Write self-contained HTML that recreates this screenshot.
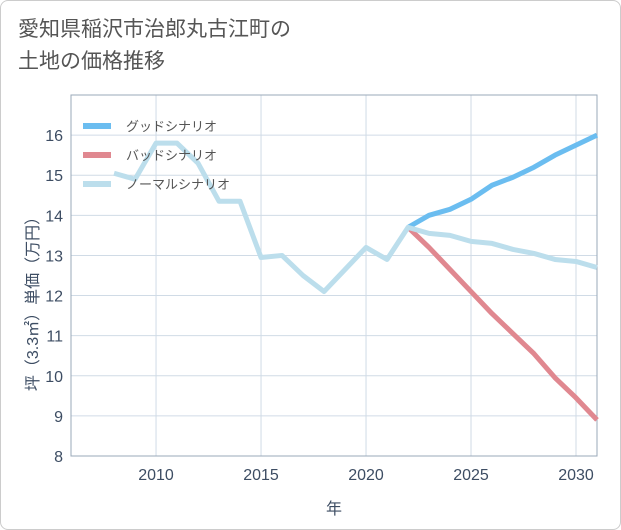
<!DOCTYPE html>
<html><head><meta charset="utf-8"><style>
body{margin:0;background:#fff;font-family:"Liberation Sans","Noto Sans CJK JP",sans-serif;}
.card{position:absolute;left:0;top:0;width:619px;height:528px;border:1px solid #ccc;border-radius:8px;background:#fff;}
.title{position:absolute;left:18px;top:14px;font-size:21px;line-height:32px;color:#555;}
</style></head><body>
<div class="card"></div>
<div class="title">愛知県稲沢市治郎丸古江町の<br>土地の価格推移</div>
<svg id="chart" width="621" height="530" style="position:absolute;left:0;top:0"></svg>
<script>
const years=[2008,2009,2010,2011,2012,2013,2014,2015,2016,2017,2018,2019,2020,2021,2022,2023,2024,2025,2026,2027,2028,2029,2030,2031];
const normal=[15.05,14.9,15.8,15.8,15.3,14.35,14.35,12.95,13.0,12.5,12.1,12.65,13.2,12.9,13.7,13.55,13.5,13.35,13.3,13.15,13.05,12.9,12.85,12.7];
const futureYears=[2022,2023,2024,2025,2026,2027,2028,2029,2030,2031];
const good=[13.7,14.0,14.15,14.4,14.75,14.95,15.2,15.5,15.75,16.0];
const bad=[13.7,13.2,12.65,12.1,11.55,11.05,10.55,9.95,9.45,8.9];
const yTicks=[8,9,10,11,12,13,14,15,16];
const xTicks=[2010,2015,2020,2025,2030];
const L=71,R=597,T=95,B=456,x0=2005.95,x1=2031,y0=8,y1=17;
const X=v=>L+(v-x0)/(x1-x0)*(R-L), Y=v=>B-(v-y0)/(y1-y0)*(B-T);
const svg=document.getElementById('chart');const NS='http://www.w3.org/2000/svg';
function mk(t,a,p){const e=document.createElementNS(NS,t);for(const k in a)e.setAttribute(k,a[k]);(p||svg).appendChild(e);return e;}
yTicks.forEach(v=>{const l=mk('line',{x1:L,x2:R,y1:Y(v),y2:Y(v),stroke:'#d0dbe6','stroke-width':1});


const t=mk('text',{x:L-8,y:Y(v)+6,'text-anchor':'end','font-size':16,fill:'#3d4d63'});t.textContent=v;

});
xTicks.forEach(v=>{const l=mk('line',{x1:X(v),x2:X(v),y1:T,y2:B,stroke:'#d0dbe6','stroke-width':1});


const t=mk('text',{x:X(v),y:B+24,'text-anchor':'middle','font-size':16,fill:'#3d4d63'});t.textContent=v;

});
const fr=mk('rect',{x:L,y:T,width:R-L,height:B-T,fill:'none',stroke:'#9aa8b8','stroke-width':1});


function line(xs,ys,c,n){const p=mk('polyline',{points:xs.map((x,i)=>X(x)+','+Y(ys[i])).join(' '),fill:'none',stroke:c,'stroke-width':5,'stroke-linejoin':'round'});

}
line(futureYears,bad,'#e08890','bad-scenario-line');
line(futureYears,good,'#6bbdf0','good-scenario-line');
line(years,normal,'#bcdeec','normal-scenario-line');
[['グッドシナリオ','#6bbdf0'],['バッドシナリオ','#e08890'],['ノーマルシナリオ','#bcdeec']].forEach((d,i)=>{
const y=126+i*29;
const s=mk('line',{x1:83,x2:111,y1:y,y2:y,stroke:d[1],'stroke-width':6});


const t=mk('text',{x:126,y:y+5,'font-size':13,fill:'#555'});t.textContent=d[0];

});
const yt=mk('text',{x:0,y:0,'font-size':16,fill:'#3d4d63','text-anchor':'middle',transform:'translate(38,300) rotate(-90)'});yt.textContent='坪（3.3㎡）単価（万円）';


const xt=mk('text',{x:334,y:514,'font-size':16,fill:'#3d4d63','text-anchor':'middle'});xt.textContent='年';


</script>
</body></html>
